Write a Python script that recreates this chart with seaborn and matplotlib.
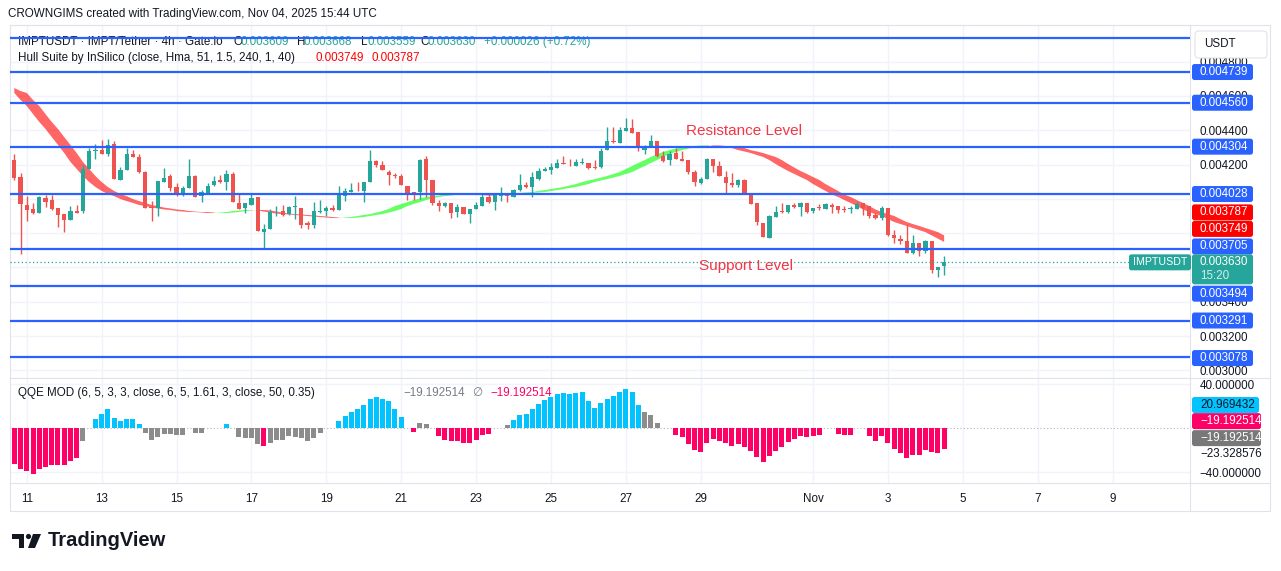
import matplotlib
matplotlib.use("Agg")
import matplotlib.pyplot as plt
import numpy as np
import pandas as pd
import seaborn as sns
from matplotlib.lines import Line2D
from matplotlib.patches import Circle, FancyBboxPatch, Polygon
from matplotlib.ticker import FuncFormatter
from matplotlib.transforms import IdentityTransform

sns.set_style("white")
plt.rcParams['font.family'] = ['Liberation Sans', 'DejaVu Sans']

# IMPT/USDT 4h candles, first bar Oct 10 16:00 UTC, prices in 1e-6 USDT
opens = [
    4228, 4127, 3965, 3938, 3917, 4007, 3996, 3949, 3909, 3876,
    3932, 3928, 4176, 4276, 4286, 4263, 4321, 4112, 4170, 4259,
    4243, 4158, 3955, 3945, 4096, 4135, 4069, 4021, 4062, 4135,
    4015, 4033, 4083, 4112, 4098, 4147, 3976, 3945, 3963, 4011,
    3806, 3824, 3922, 3932, 3911, 3953, 3949, 3858, 3847, 3924,
    3928, 3949, 3934, 4015, 4038, 4054, 4044, 4096, 4222, 4199,
    4158, 4139, 4135, 4077, 4038, 4038, 4234, 4108, 3976, 3957,
    3973, 3922, 3955, 3911, 3940, 3957, 4011, 3980, 4019, 4021,
    4011, 4050, 4081, 4067, 4118, 4162, 4166, 4178, 4209, 4205,
    4193, 4210, 4209, 4185, 4185, 4286, 4336, 4328, 4398, 4412,
    4392, 4286, 4309, 4338, 4251, 4224, 4268, 4234, 4224, 4158,
    4094, 4114, 4232, 4193, 4127, 4092, 4079, 4112, 4034, 3973,
    3860, 3771, 3895, 3930, 3922, 3965, 3953, 3973, 3930, 3953,
    3942, 3967, 3957, 3942, 3942, 3942, 3973, 3957, 3907, 3887,
    3945, 3789, 3764, 3756, 3686, 3740, 3698, 3752, 3586, 3609,
]
highs = [
    4263, 4150, 4019, 3973, 4015, 4025, 4025, 3949, 3909, 3961,
    3967, 4195, 4299, 4321, 4344, 4348, 4336, 4185, 4297, 4286,
    4263, 4162, 3986, 4106, 4181, 4147, 4092, 4073, 4234, 4139,
    4050, 4092, 4131, 4141, 4166, 4158, 4034, 3973, 4029, 4011,
    3856, 3942, 3957, 3965, 3961, 4019, 3949, 3870, 3984, 3996,
    3957, 3965, 4077, 4063, 4092, 4100, 4100, 4286, 4228, 4222,
    4170, 4150, 4143, 4077, 4042, 4234, 4251, 4108, 3992, 3984,
    3973, 3969, 3955, 3942, 3980, 4029, 4034, 4023, 4069, 4023,
    4058, 4147, 4100, 4158, 4178, 4185, 4209, 4232, 4249, 4232,
    4232, 4236, 4209, 4226, 4297, 4417, 4417, 4421, 4470, 4464,
    4392, 4315, 4373, 4338, 4280, 4280, 4296, 4280, 4224, 4170,
    4127, 4239, 4232, 4218, 4160, 4150, 4116, 4116, 4034, 3973,
    3860, 3903, 3961, 3976, 3965, 3976, 3984, 3976, 3949, 3969,
    3976, 3976, 3961, 3961, 3957, 3980, 3976, 3961, 3926, 3957,
    3949, 3818, 3787, 3853, 3787, 3744, 3760, 3756, 3605, 3668,
]
lows = [
    4108, 3680, 3870, 3909, 3915, 3951, 3934, 3835, 3806, 3876,
    3918, 3915, 4176, 4234, 4259, 4247, 4118, 4112, 4170, 4241,
    4150, 3949, 3870, 3899, 4096, 4044, 4015, 4015, 4062, 4009,
    3980, 4033, 4073, 4092, 4050, 3980, 3938, 3915, 3963, 3812,
    3711, 3824, 3899, 3899, 3907, 3884, 3829, 3826, 3829, 3918,
    3899, 3930, 3934, 3986, 4038, 4046, 3980, 4096, 4185, 4166,
    4079, 4121, 4079, 3992, 3992, 4000, 4009, 3963, 3928, 3953,
    3888, 3895, 3911, 3858, 3940, 3957, 3976, 3934, 3986, 3980,
    4011, 4044, 4063, 4009, 4112, 4162, 4147, 4178, 4203, 4193,
    4193, 4203, 4176, 4174, 4181, 4286, 4325, 4328, 4398, 4386,
    4276, 4263, 4305, 4241, 4216, 4199, 4234, 4218, 4143, 4073,
    4089, 4114, 4156, 4131, 4034, 4069, 4069, 4027, 3969, 3849,
    3775, 3771, 3895, 3915, 3918, 3949, 3899, 3918, 3915, 3934,
    3942, 3918, 3918, 3922, 3918, 3938, 3903, 3891, 3884, 3876,
    3783, 3744, 3737, 3686, 3679, 3667, 3682, 3570, 3547, 3559,
]
closes = [
    4121, 3969, 3934, 3915, 4009, 3984, 3938, 3905, 3876, 3930,
    3920, 4176, 4280, 4286, 4263, 4315, 4118, 4170, 4263, 4241,
    4154, 3949, 3945, 4106, 4123, 4062, 4021, 4063, 4135, 4009,
    4040, 4075, 4106, 4096, 4147, 3980, 3938, 3973, 4005, 3812,
    3827, 3924, 3926, 3907, 3951, 3957, 3847, 3847, 3932, 3928,
    3949, 3934, 4021, 4044, 4054, 4050, 4100, 4222, 4195, 4166,
    4137, 4135, 4079, 4034, 4034, 4228, 4108, 3973, 3957, 3973,
    3918, 3955, 3911, 3942, 3963, 4011, 3980, 4023, 4023, 4015,
    4054, 4081, 4067, 4127, 4162, 4174, 4185, 4209, 4203, 4201,
    4216, 4214, 4181, 4181, 4280, 4338, 4332, 4402, 4412, 4386,
    4294, 4305, 4338, 4251, 4220, 4263, 4234, 4218, 4158, 4096,
    4118, 4234, 4189, 4131, 4092, 4079, 4112, 4031, 3969, 3864,
    3779, 3899, 3926, 3922, 3965, 3953, 3973, 3922, 3949, 3947,
    3969, 3951, 3934, 3936, 3949, 3969, 3949, 3899, 3889, 3949,
    3787, 3771, 3752, 3686, 3740, 3694, 3752, 3586, 3605, 3630,
]

# Hull Suite MA, starts two bars before the first candle (band = hull vs hull[2])
hull = [
    4646, 4628, 4617, 4576, 4541, 4494, 4448, 4407, 4360, 4314,
    4267, 4215, 4174, 4133, 4098, 4069, 4046, 4028, 4016, 3999,
    3987, 3976, 3964, 3958, 3949, 3944, 3938, 3935, 3929, 3926,
    3923, 3923, 3920, 3917, 3917, 3920, 3923, 3929, 3932, 3935,
    3935, 3932, 3926, 3920, 3914, 3911, 3909, 3906, 3903, 3900,
    3897, 3894, 3891, 3888, 3888, 3891, 3894, 3900, 3906, 3911,
    3920, 3929, 3941, 3958, 3970, 3981, 3993, 4002, 4011, 4016,
    4019, 4025, 4028, 4028, 4028, 4025, 4022, 4022, 4019, 4019,
    4022, 4025, 4028, 4034, 4037, 4040, 4046, 4051, 4057, 4063,
    4069, 4078, 4086, 4098, 4107, 4115, 4124, 4133, 4145, 4156,
    4174, 4191, 4209, 4226, 4244, 4261, 4273, 4284, 4293, 4299,
    4305, 4308, 4311, 4311, 4308, 4308, 4305, 4296, 4284, 4276,
    4267, 4255, 4244, 4226, 4203, 4182, 4162, 4145, 4127, 4110,
    4086, 4066, 4046, 4025, 4011, 3993, 3976, 3958, 3938, 3923,
    3911, 3900, 3882, 3865, 3853, 3842, 3830, 3818, 3806, 3787,
    3768, 3749,
]

# QQE MOD histogram, None where no bar is drawn
qqe = [
    -32.4, -37.0, -39.4, -42.1, -37.0, -35.2, -33.3, -33.3, -33.3, -29.7,
    -27.0, -12.1, None, 8.5, 13.0, 17.6, 9.4, 6.7, 8.5, 8.5,
    3.9, -4.8, -10.6, -7.9, -5.5, -5.5, -6.7, -6.7, None, -4.8,
    -4.8, None, None, None, 3.9, None, -7.9, -9.1, -9.1, -14.2,
    -16.7, -13.3, -10.6, -10.6, -7.3, -7.9, -8.8, -11.5, -9.1, -4.2,
    None, None, 6.7, 11.2, 14.2, 17.6, 21.2, 26.7, 28.2, 26.7,
    24.8, 17.6, 10.3, None, -3.6, 4.8, 3.9, None, -7.0, -10.6,
    -11.5, -11.5, -13.9, -13.3, -10.6, -6.1, -5.2, None, None, 3.0,
    7.6, 12.1, 13.0, 17.6, 22.1, 25.8, 28.5, 31.2, 32.1, 31.2,
    32.1, 33.0, 24.8, 18.5, 23.0, 26.7, 29.4, 33.0, 35.8, 33.0,
    21.2, 14.8, 12.1, 4.8, None, None, -6.1, -8.5, -14.2, -19.7,
    -21.5, -13.3, -9.7, -11.5, -13.3, -16.1, -14.2, -17.0, -21.2, -26.1,
    -30.6, -25.2, -20.6, -17.0, -12.4, -9.7, -7.0, -7.9, -7.0, -6.4,
    None, None, -5.5, -6.1, -6.1, None, None, -7.0, -11.5, -7.0,
    -13.3, -18.8, -22.4, -27.0, -24.2, -24.2, -19.7, -21.5, -22.4, -19.2,
]
# p = pink (below), b = blue (above), g = grey, - = no bar
qqe_colors = ("ppppppppppp" "g-" "bbbbbbbb" "ggggggg" "-gg---b-" "gggg" "p"
              "ggggggggg" "--" "bbbbbbbbbbb" "-pgg-" "ppppppppp" "--g"
              "bbbbbbbbbbbbbbbbbbbbb" "ggg--" "pppppppppppppppppppppppp"
              "--ppp--" "ppppppppppppp")

level_lines = [4937, 4739, 4560, 4304, 4028, 3705, 3494, 3291, 3078]
price_ticks = [3000, 3200, 3400, 3600, 3800, 4000, 4200, 4400, 4600, 4800]
hidden_ticks = [3600, 3800, 4000]  # covered by the price tags
date_ticks = [2, 14, 26, 38, 50, 62, 74, 86, 98, 110, 128, 140, 152, 164, 176]
date_labels = ['11', '13', '15', '17', '19', '21', '23', '25', '27', '29',
               'Nov', '3', '5', '7', '9']

GREEN = '#26a69a'
RED = '#ef5350'
BLUE = '#2962ff'
DARK = '#131722'
GRID = '#f0f3fa'
BORDER = '#e0e3eb'
QQE_PAL = {'p': '#ff0066', 'b': '#00c3ff', 'g': '#8c8c8c'}
FS = 8.4

W, H = 1281, 571
fig = plt.figure(figsize=(W / 100, H / 100), dpi=100)
IT = IdentityTransform()


def rect(l, t, r, b):
    return [l / W, 1 - b / H, (r - l) / W, (b - t) / H]


ax = fig.add_axes(rect(10, 25, 1190, 378))
qx = fig.add_axes(rect(10, 378, 1190, 483))
XLIM = (-0.69, 188.4)

idx = np.arange(len(closes))
o = np.array(opens) * 1e-6
hi = np.array(highs) * 1e-6
lo = np.array(lows) * 1e-6
c = np.array(closes) * 1e-6
col = np.where(c >= o, GREEN, RED)

# hull band
hx = np.arange(len(hull)) - 2
hv = np.array(hull) * 1e-6
m, s, xx = hv[2:], hv[:-2], hx[2:]
falling = m < s
nxt = np.r_[falling[1:], falling[-1]]
ax.fill_between(xx, m, s, where=(~falling) | (~nxt), color='#00ff00', alpha=0.6, lw=0, zorder=2)
ax.fill_between(xx, m, s, where=falling | nxt, color='#ff0000', alpha=0.6, lw=0, zorder=2)

# candles
ax.vlines(idx, lo, hi, colors=col, linewidth=1, zorder=3)
ax.bar(idx, np.maximum(np.abs(c - o), 4e-6), bottom=np.minimum(o, c), width=0.68,
       color=col, linewidth=0, zorder=4)

for v in level_lines:
    ax.axhline(v * 1e-6, color=BLUE, lw=1.6, zorder=5)

ax.hlines(c[-1], XLIM[0], 178.6, colors=GREEN, linestyles=(0, (1, 2)), lw=0.9, zorder=5)

ax.text(107.6, 0.004395, 'Resistance Level', color='#f23645', fontsize=11, va='center', zorder=6)
ax.text(109.7, 0.003608, 'Support Level', color='#f23645', fontsize=11, va='center', zorder=6)

ax.set_xlim(*XLIM)
ax.set_ylim(0.002956, 0.005013)
ax.set_xticks(date_ticks)
ax.set_yticks(np.array(price_ticks) * 1e-6)
ax.yaxis.tick_right()
ax.yaxis.set_major_formatter(FuncFormatter(
    lambda v, _: '' if round(v * 1e6) in hidden_ticks else f'{v:.6f}'))
ax.tick_params(axis='x', labelbottom=False, length=0)
ax.tick_params(axis='y', length=0, pad=7, labelsize=FS, labelcolor=DARK)
ax.grid(True, color=GRID, lw=1)
ax.set_axisbelow(True)

# QQE histogram
qdf = pd.DataFrame({'i': idx, 'v': qqe, 'c': list(qqe_colors)}).dropna()
sns.barplot(data=qdf, x='i', y='v', hue='c', palette=QQE_PAL, native_scale=True,
            dodge=False, width=0.8, saturation=1, errorbar=None, legend=False,
            ax=qx, zorder=3, linewidth=0)
qx.axhline(0, color='#b2b5be', ls=(0, (1, 2)), lw=0.8, zorder=2)
qx.set_xlim(*XLIM)
qx.set_ylim(-50, 45.5)
qx.set_xlabel('')
qx.set_ylabel('')
qx.set_xticks(date_ticks)
qx.set_xticklabels(date_labels)
qx.set_yticks([-40, 40])
qx.yaxis.tick_right()
qx.yaxis.set_major_formatter(FuncFormatter(lambda v, _: f'{v:.6f}'.replace('-', '\u2212')))
qx.tick_params(axis='x', length=0, pad=7, labelsize=FS, labelcolor=DARK)
qx.tick_params(axis='y', length=0, pad=7, labelsize=FS, labelcolor=DARK)
qx.grid(True, color=GRID, lw=1)
qx.set_axisbelow(True)

for a in (ax, qx):
    for sp in a.spines.values():
        sp.set_color(BORDER)
        sp.set_linewidth(0.8)


def fline(x0, y0, x1, y1):
    fig.add_artist(Line2D([x0, x1], [H - y0, H - y1], transform=IT, color=BORDER, lw=0.8))


fline(10, 25, 1270, 25)
fline(1270, 25, 1270, 511)
fline(10, 511, 1270, 511)
fline(10, 483, 10, 511)
fline(1190, 483, 1190, 511)
fline(1190, 378, 1270, 378)
fline(1190, 483, 1270, 483)


def tag(axis, value, text, fc, tc='white', dy=0, w=61, h=16, x0=1192, tx=1200,
        second=None, size=FS):
    yc = axis.transData.transform((0, value))[1] - dy
    if fc is not None:
        hh = h + (14 if second else 0)
        fig.add_artist(FancyBboxPatch((x0, yc - hh + h / 2 if second else yc - h / 2), w, hh,
                                      boxstyle='round,pad=0,rounding_size=2.5', transform=IT,
                                      fc=fc, ec='none', zorder=2))
    fig.text(tx / W, yc / H, text, color=tc, fontsize=size, va='center', ha='left', zorder=3)
    if second:
        fig.text(tx / W, (yc - 14) / H, second, color=tc, alpha=0.8, fontsize=size,
                 va='center', ha='left', zorder=3)


tag(ax, 0.004739, '0.004739', BLUE)
tag(ax, 0.004560, '0.004560', BLUE)
tag(ax, 0.004304, '0.004304', BLUE)
tag(ax, 0.004028, '0.004028', BLUE)
tag(ax, 0.003787, '0.003787', '#ff0000', dy=-23)
tag(ax, 0.003749, '0.003749', '#ff0000', dy=-13)
tag(ax, 0.003705, '0.003705', BLUE, dy=-3)
tag(ax, 0.003630, '0.003630', GREEN, second='15:20')
tag(ax, 0.003494, '0.003494', BLUE, dy=8)
tag(ax, 0.003291, '0.003291', BLUE)
tag(ax, 0.003078, '0.003078', BLUE, dy=1)
tag(ax, 0.003630, 'IMPTUSDT', GREEN, x0=1129, tx=1133, w=62, size=7.7)

tag(qx, 20.969432, '20.969432', '#00c3ff', tc=DARK, w=67)
tag(qx, -19.192514, '\u221219.192514', '#ff0066', dy=-28, w=69)
tag(qx, -19.192514, '\u221219.192514', '#787878', dy=-11, w=69)
tag(qx, -23.328576, '\u221223.328576', None, tc=DARK)

# USDT box
fig.add_artist(FancyBboxPatch((1195, H - 58), 72, 27, boxstyle='round,pad=0,rounding_size=4',
                              transform=IT, fc='white', ec=BORDER, lw=0.8, zorder=2))
fig.text(1204 / W, 1 - 44 / H, 'USDT', color=DARK, fontsize=FS, va='center', zorder=3)


def legend(x, y, s, color):
    ax.text(x / W, 1 - y / H, s, color=color, fontsize=FS, va='center', ha='left',
            transform=fig.transFigure, zorder=2)


legend(18, 42, 'IMPTUSDT \u00b7 IMPT/Tether \u00b7 4h \u00b7 Gate.io', DARK)
for x, lab, x2, val in [(233, 'O', 241, '0.003609'), (297, 'H', 304, '0.003668'),
                        (361, 'L', 367, '0.003559'), (420, 'C', 427, '0.003630')]:
    legend(x, 42, lab, DARK)
    legend(x2, 42, val, GREEN)
legend(484, 42, '+0.000026 (+0.72%)', GREEN)
legend(18, 58, 'Hull Suite by InSilico (close, Hma, 51, 1.5, 240, 1, 40)', DARK)
legend(316, 58, '0.003749', '#ff0000')
legend(371, 58, '0.003787', '#ff0000')

fig.text(18 / W, 1 - 393 / H, 'QQE MOD (6, 5, 3, 3, close, 6, 5, 1.61, 3, close, 50, 0.35)',
         color=DARK, fontsize=FS, va='center')
fig.text(403 / W, 1 - 393 / H, '\u221219.192514', color='#787b86', fontsize=FS, va='center')
fig.text(472 / W, 1 - 393 / H, '\u2205', color='#787b86', fontsize=FS, va='center')
fig.text(490 / W, 1 - 393 / H, '\u221219.192514', color='#ff0066', fontsize=FS, va='center')

# header
fig.text(8 / W, 1 - 14 / H, 'CROWNGIMS created with TradingView.com, Nov 04, 2025 15:44 UTC',
         color=DARK, fontsize=FS, va='center')

# TradingView logo
fig.add_artist(Polygon([(12, H - 534), (24, H - 534), (24, H - 548), (19, H - 548),
                        (19, H - 539), (12, H - 539)], closed=True, transform=IT, fc=DARK, ec='none'))
fig.add_artist(Circle((28.5, H - 536.5), 2.6, transform=IT, fc=DARK, ec='none'))
fig.add_artist(Polygon([(33, H - 534), (41, H - 534), (35, H - 548), (28, H - 548)],
                       closed=True, transform=IT, fc=DARK, ec='none'))
fig.text(48 / W, 1 - 541 / H, 'TradingView', color=DARK, fontsize=14.5, fontweight='bold',
         va='center')

fig.savefig('out.png', dpi=100)
